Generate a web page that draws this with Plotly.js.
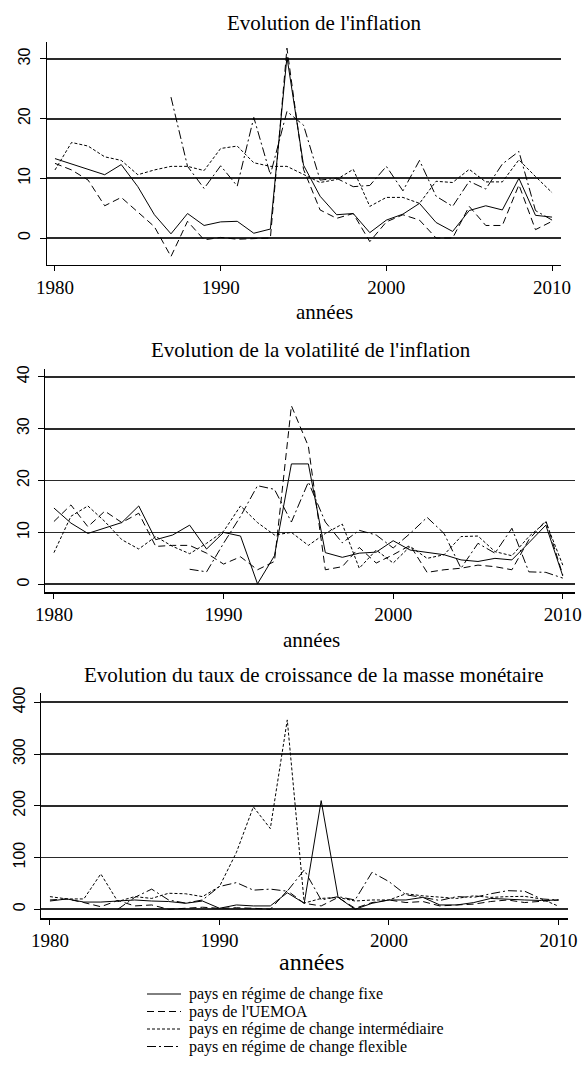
<!DOCTYPE html>
<html><head><meta charset="utf-8">
<script src="https://cdn.plot.ly/plotly-3.0.1.min.js"></script>
<style>html,body{margin:0;padding:0;background:#fff}#chart{width:584px;height:1077px}</style>
</head><body><div id="chart"></div>
<script>
// ---------- DATA ----------
const years = [1980,1981,1982,1983,1984,1985,1986,1987,1988,1989,1990,1991,1992,1993,1994,1995,1996,1997,1998,1999,2000,2001,2002,2003,2004,2005,2006,2007,2008,2009,2010];

const seriesNames = ["pays en régime de change fixe","pays de l'UEMOA","pays en régime de change intermédiaire","pays en régime de change flexible"];
const panelTitles = ["Evolution de l'inflation","Evolution de la volatilité de l'inflation","Evolution du taux de croissance de la masse monétaire"];
const xAxisTitle = "années";
const xTickVals = [1980,1990,2000,2010];
const yTicks1 = [0,10,20,30];
const yTicks2 = [0,10,20,30,40];
const yTicks3 = [0,100,200,300,400];

// Panel 1 : inflation
const inflFixe  = [13.3,12.4,11.5,10.6,12.3,8.6,3.9,0.7,4.1,2.1,2.7,2.8,0.8,1.5,30.3,12.2,7.0,3.9,4.1,0.9,3.0,4.0,5.8,2.6,1.1,4.6,5.4,4.7,10.0,3.8,3.5];
const inflUemoa = [12.5,11.4,9.7,5.4,6.8,4.4,1.9,-3.1,2.8,-0.3,0.1,-0.2,-0.1,0.0,31.8,11.5,4.7,3.3,4.1,-0.6,2.7,3.9,3.0,0.0,0.0,5.3,2.1,2.1,8.9,1.4,2.8];
const inflInter = [11.4,16.0,15.4,13.6,13.0,10.6,11.4,12.0,12.0,11.3,15.0,15.4,12.6,12.0,12.0,10.6,9.3,9.8,11.5,5.3,6.8,6.8,5.8,9.5,9.3,11.5,9.4,9.4,13.1,10.3,7.6];
const inflFlex  = [null,null,null,null,null,null,null,23.6,12.0,8.3,12.1,8.7,20.2,10.6,21.2,18.9,9.7,10.0,8.6,8.8,12.0,7.9,13.0,7.0,5.3,9.5,8.2,12.4,14.5,4.6,3.0];

// Panel 2 : volatilité de l'inflation
const volFixe  = [14.7,11.8,9.8,10.8,11.9,15.1,8.6,9.5,11.4,6.8,10.0,9.3,0.1,5.5,23.2,23.2,6.1,5.2,6.0,6.2,8.4,6.6,6.1,5.7,4.7,4.4,5.0,4.7,8.0,11.4,1.6];
const volUemoa = [12.1,15.3,11.1,14.1,11.9,13.7,7.3,7.5,7.5,6.0,3.9,5.3,2.8,4.4,34.4,26.6,2.8,3.4,7.1,4.1,5.7,7.5,2.3,2.8,3.1,3.7,3.4,2.8,8.6,12.3,1.8];
const volInter = [6.1,13.1,15.1,12.1,8.6,6.8,9.2,7.3,5.9,7.9,10.2,15.1,11.9,9.5,10.0,7.5,9.8,11.6,3.1,6.6,4.1,7.3,5.0,5.7,9.2,9.3,6.3,5.5,9.2,12.0,3.7];
const volFlex  = [null,null,null,null,null,null,null,null,2.9,2.4,7.9,13.1,19.0,18.3,12.0,19.7,12.0,8.0,10.4,9.5,7.0,9.8,12.9,9.8,3.1,7.9,6.0,10.8,2.4,2.3,1.2];

// Panel 3 : croissance de la masse monétaire
const mmFixe  = [16,20,14,14,16,18,16,15,11.6,16,2,8.4,6.5,6.5,32,11.6,210,23,0,11.6,18,18,23,8.4,8.4,13,21,19,18,17,18];
const mmUemoa = [18,20,13,5,17,6.5,8.4,0,2,4,2,3,2,0,36,11.6,6.5,23,2,13,18,13,15,6.5,8.4,10,15,18,13,15,18];
const mmInter = [24.5,20,20,68.4,15,24.5,21,31,30,24.5,44,110,198,156,366,12,21,23,16,18,18,30,26,23,21,26,23,24.5,25,20,6];
const mmFlex  = [null,null,null,null,0,23,39,18,12,18,44,51.6,37,39,35,76,18,24.5,18,71.6,53.5,28,23,17,24.5,23,30,36,35,20,18];

// ---------- STYLE ----------
const W = 584, H = 1077;
const dashes = ["solid","7px,4px","3px,2px","9px,3px,2px,3px"];
const serif = "Liberation Serif, Times New Roman, serif";
const sans = "Liberation Sans, Arial, sans-serif";
const px2x = p => p / W;
const px2y = p => 1 - p / H;

const panels = [
  {data:[inflFixe,inflUemoa,inflInter,inflFlex], yt:yTicks1,
   xdom:[46.7,561], xr:[1979.50,2010.54], ydom:[265,41.7], yr:[-4.52,32.88],
   title:{x:324,y:23}, at:{x:324,y:311.7,s:21}},
  {data:[volFixe,volUemoa,volInter,volFlex], yt:yTicks2,
   xdom:[45.3,575], xr:[1979.49,2010.72], ydom:[592.3,369.3], yr:[-1.54,41.43],
   title:{x:311,y:350}, at:{x:311,y:640,s:21}},
  {data:[mmFixe,mmUemoa,mmInter,mmFlex], yt:yTicks3,
   xdom:[41.3,568], xr:[1979.49,2010.56], ydom:[918.3,693], yr:[-17.4,418],
   title:{x:314,y:675}, at:{x:311,y:962,s:24}}
];

const traces = [];
const layout = {
  width:W, height:H, margin:{l:0,r:0,t:0,b:0},
  paper_bgcolor:"#fff", plot_bgcolor:"#fff", showlegend:false,
  font:{family:serif, color:"#000"},
  annotations:[], shapes:[]
};

panels.forEach((p,i) => {
  const n = i===0 ? "" : String(i+1);
  p.data.forEach((d,s) => {
    traces.push({x:years, y:d, xaxis:"x"+n, yaxis:"y"+n, type:"scatter", mode:"lines",
      name:seriesNames[s], connectgaps:false, hoverinfo:"skip",
      line:{color:"#000", width:1, dash:dashes[s]}});
  });
  layout["xaxis"+n] = {domain:[px2x(p.xdom[0]),px2x(p.xdom[1])], range:p.xr, anchor:"y"+n,
    tickvals:xTickVals, ticks:"outside", ticklen:5, tickwidth:1, tickcolor:"#000",
    showline:true, linecolor:"#000", linewidth:1.2, showgrid:false, zeroline:false,
    ticklabeloverflow:"allow",
    tickfont:{family:serif, size:19, color:"#000"}, fixedrange:true};
  layout["yaxis"+n] = {domain:[px2y(p.ydom[0]),px2y(p.ydom[1])], range:p.yr, anchor:"x"+n,
    tickvals:p.yt, ticks:"outside", ticklen:6, tickwidth:1, tickcolor:"#000",
    showline:true, linecolor:"#000", linewidth:1.2, showgrid:true, gridcolor:"#2a2a2a", gridwidth:1.8,
    zeroline:false, tickangle:-90, ticklabelstandoff:3,
    tickfont:{family:sans, size:16, color:"#000"}, fixedrange:true};
  layout.annotations.push({xref:"paper",yref:"paper",x:px2x(p.title.x),y:px2y(p.title.y),
    text:panelTitles[i],showarrow:false,xanchor:"center",yanchor:"middle",
    font:{family:serif,size:21,color:"#000"}});
  layout.annotations.push({xref:"paper",yref:"paper",x:px2x(p.at.x),y:px2y(p.at.y),
    text:xAxisTitle,showarrow:false,xanchor:"center",yanchor:"middle",
    font:{family:serif,size:p.at.s,color:"#000"}});
});

// legend (manual, below last panel)
const legRows = [994,1011.5,1029,1046.5];
seriesNames.forEach((nm,s) => {
  layout.shapes.push({type:"line",xref:"paper",yref:"paper",x0:px2x(147),x1:px2x(181),
    y0:px2y(legRows[s]),y1:px2y(legRows[s]),line:{color:"#000",width:1,dash:dashes[s]}});
  layout.annotations.push({xref:"paper",yref:"paper",x:px2x(188),y:px2y(legRows[s]),
    text:nm,showarrow:false,xanchor:"left",yanchor:"middle",borderpad:0,
    font:{family:serif,size:16,color:"#000"}});
});

Plotly.newPlot("chart", traces, layout, {staticPlot:true, displayModeBar:false});
</script></body></html>
